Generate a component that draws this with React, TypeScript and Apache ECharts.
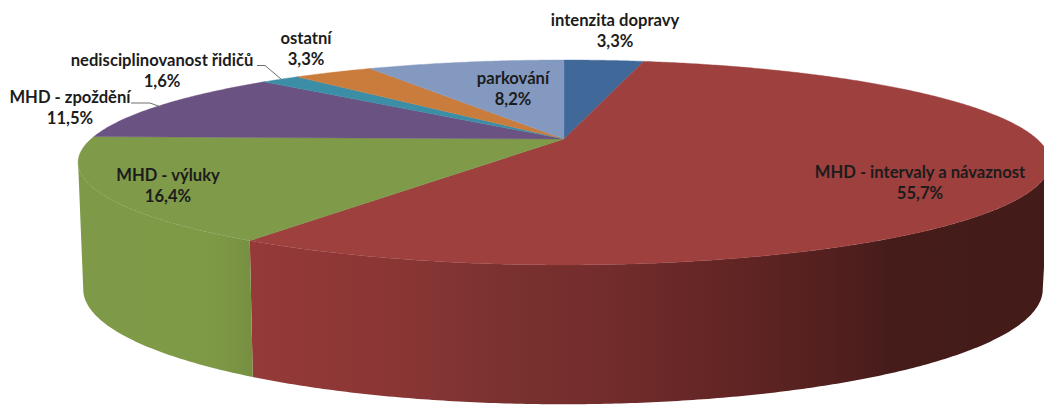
import React, { useEffect, useRef } from "react";
import * as echarts from "echarts";

const categories = [
  "intenzita dopravy",
  "MHD - intervaly a návaznost",
  "MHD - výluky",
  "MHD - zpoždění",
  "nedisciplinovanost řidičů",
  "ostatní",
  "parkování",
];
const shares = [3.3, 55.7, 16.4, 11.5, 1.6, 3.3, 8.2];
const faceColors = ["#40699a", "#9d403e", "#7f9a49", "#6a5283", "#3c8ea6", "#c97c3b", "#8499c0"];

// label centres (x, y of the first line's middle), one per category
const labelAnchors: [number, number][] = [
  [615, 20], [920, 172], [168, 175], [70, 97], [162, 60], [306, 38], [513, 78],
];
const leaderLines: [number, number][][] = [
  [[131, 103], [150, 103], [161, 107]],
  [[257, 65.5], [265, 65.5], [281, 79]],
];

// perspective projection of the pie's two circular planes
const TOP = { cx: 564, cy: 139, a: 473, b: 97.1, k: 0.229 };
const BOTTOM = { cx: 563, cy: 263, a: 467, b: 108.9, k: 0.229 };

const project = (p: typeof TOP, deg: number): [number, number] => {
  const t = (deg * Math.PI) / 180;
  const u = Math.sin(t);
  const v = -Math.cos(t);
  const d = 1 - p.k * v;
  return [p.cx + (p.a * u) / d, p.cy + (p.b * v) / d];
};

// the wall is visible only between the two silhouette angles of the projected circle
const WALL_FROM = (Math.acos(-TOP.k) * 180) / Math.PI;
const WALL_TO = 360 - WALL_FROM;

const gradientOf = (x0: number, x1: number, stops: [number, string][]) =>
  new echarts.graphic.LinearGradient(
    x0, 0, x1, 0,
    stops.map(([x, color]) => ({ offset: (x - x0) / (x1 - x0), color })),
    true,
  );
const sideFills: Record<number, any> = {
  1: gradientOf(250, 1044, [[250, "#953a38"], [400, "#893635"], [500, "#7b322f"], [600, "#732d2c"], [750, "#5f2423"], [850, "#4f1f1d"], [890, "#451c1a"], [1044, "#431b19"]]),
  2: gradientOf(77, 252, [[77, "#7e9a48"], [205, "#7f9a47"], [235, "#7b9444"], [252, "#768f40"]]),
};

const cumulative = shares.reduce<number[]>((acc, v) => [...acc, acc[acc.length - 1] + v], [0]);
const total = cumulative[cumulative.length - 1];
const angleOf = (v: number) => (v / total) * 360;
const arcSteps = (from: number, to: number, step: number) => {
  const out: number[] = [];
  const n = Math.max(2, Math.ceil((to - from) / step));
  for (let i = 0; i <= n; i++) out.push(from + ((to - from) * i) / n);
  return out;
};
const rows = shares.map((v) => [v]);

export default function App() {
  const ref = useRef<HTMLDivElement>(null);
  useEffect(() => {
    const chart = echarts.init(ref.current!, undefined, { renderer: "svg" });
    chart.setOption({
      animation: false,
      backgroundColor: "#ffffff",
      tooltip: { show: false },
      series: [
        {
          type: "custom",
          name: "side",
          coordinateSystem: "none",
          silent: true,
          z: 1,
          data: rows,
          renderItem: (params: any) => {
            const i = params.dataIndex;
            const from = Math.max(angleOf(cumulative[i]), WALL_FROM);
            const to = Math.min(angleOf(cumulative[i + 1]), WALL_TO);
            if (to <= from) return { type: "group", children: [] };
            const as = arcSteps(from, to, 0.5);
            return {
              type: "polygon",
              shape: {
                points: [
                  ...as.map((d) => project(TOP, d)),
                  ...[...as].reverse().map((d) => project(BOTTOM, d)),
                ],
              },
              style: { fill: sideFills[i] ?? faceColors[i] },
            };
          },
        },
        {
          type: "custom",
          name: "face",
          coordinateSystem: "none",
          silent: true,
          z: 2,
          data: rows,
          renderItem: (params: any) => {
            const i = params.dataIndex;
            const as = arcSteps(angleOf(cumulative[i]), angleOf(cumulative[i + 1]), 0.5);
            return {
              type: "polygon",
              shape: { points: [[TOP.cx, TOP.cy], ...as.map((d) => project(TOP, d))] },
              style: { fill: faceColors[i], stroke: faceColors[i], lineWidth: 0.4 },
            };
          },
        },
        {
          type: "custom",
          name: "label",
          coordinateSystem: "none",
          silent: true,
          z: 3,
          data: rows,
          renderItem: (params: any, api: any) => {
            const i = params.dataIndex;
            const [x, y] = labelAnchors[i];
            const pct = api.value(0).toFixed(1).replace(".", ",") + "%";
            return {
              type: "text",
              style: {
                text: `${categories[i]}\n${pct}`,
                x,
                y: y - 11,
                align: "center",
                verticalAlign: "top",
                lineHeight: 21,
                fontFamily: "Lato",
                fontSize: 16.6,
                fontWeight: "bold",
                fill: "#1c1c1c",
              },
            };
          },
        },
      ],
      graphic: leaderLines.map((pts) => ({
        type: "polyline",
        z: 4,
        silent: true,
        shape: { points: pts },
        style: { stroke: "#6e6e6e", lineWidth: 1, fill: "none" },
      })),
    });
    return () => chart.dispose();
  }, []);
  return <div ref={ref} style={{ position: "absolute", left: 0, top: 0, width: 1044, height: 405 }} />;
}
